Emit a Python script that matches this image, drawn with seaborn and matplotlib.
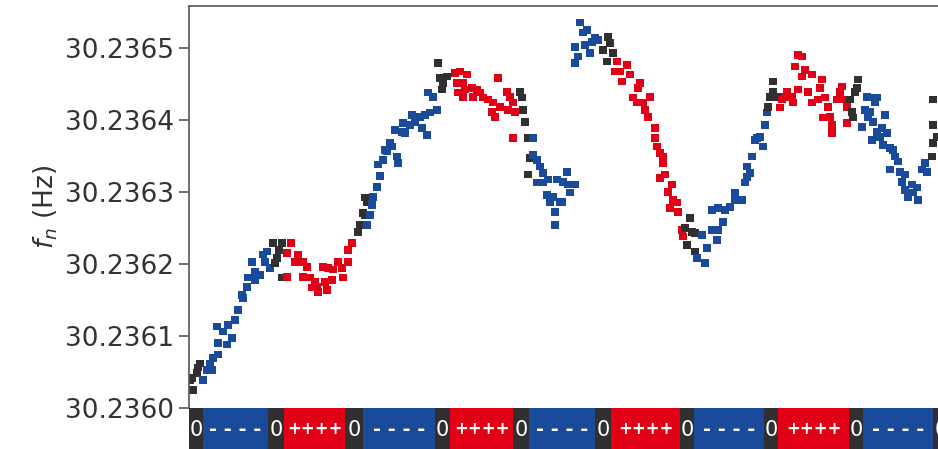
import numpy as np
import pandas as pd
import matplotlib
matplotlib.use("Agg")
import matplotlib.pyplot as plt
import seaborn as sns

# Datos: tiempo (min), desplazamiento de f_n respecto a 30.2360 Hz (µHz), estado
f_base = 30.2360

t_min = [
    # 0
    0.1, 0.3, 0.4, 0.8, 0.9, 1.1,
    # ----
    1.4, 1.8, 2.1, 2.3, 2.4, 2.8, 2.9, 2.9, 3.4, 3.8, 3.9, 4.3, 4.6, 4.9, 5.3, 5.4, 5.8, 5.9,
    6.3, 6.6, 6.6, 7.1, 7.4, 7.6, 7.8, 8.1,
    # 0
    8.4, 8.6, 8.8, 9.0, 9.3, 9.3,
    # ++++
    9.8, 9.8, 10.2, 10.6, 10.9, 11.4, 11.4, 11.8, 12.1, 12.3, 12.6, 12.8, 12.9, 13.4, 13.6, 13.8,
    13.9, 14.3, 14.4, 14.9, 15.3, 15.4, 15.9, 15.9, 16.3,
    # 0
    16.9, 17.1, 17.4, 17.6, 17.6, 17.8,
    # ----
    17.8, 18.1, 18.3, 18.4, 18.8, 18.9, 19.1, 19.4, 19.6, 19.8, 20.1, 20.3, 20.6, 20.8, 20.9,
    21.3, 21.4, 21.6, 22.1, 22.3, 22.6, 23.1, 23.3, 23.6, 23.8, 23.9, 24.1, 24.4, 24.8,
    # 0
    24.9, 25.1, 25.3, 25.4, 25.8,
    # ++++
    26.6, 26.8, 26.9, 27.1, 27.4, 27.4, 27.6, 27.8, 28.3, 28.4, 28.8, 29.1, 29.4, 29.9, 30.3,
    30.4, 30.6, 30.9, 31.1, 31.8, 31.9, 32.1, 32.4, 32.4, 32.6,
    # 0
    33.1, 33.3, 33.4, 33.6, 33.9, 33.9, 34.1,
    # ----
    34.4, 34.4, 34.8, 34.8, 35.1, 35.4, 35.4, 35.8, 35.9, 36.1, 36.4, 36.6, 36.6, 36.8, 37.1,
    37.3, 37.4, 37.8, 37.9, 38.1, 38.4, 38.6,
    38.6, 38.6, 38.9, 39.1, 39.4, 39.6, 39.8, 40.1, 40.3, 40.6, 40.9,
    # 0
    41.4, 41.8, 41.9, 42.1, 42.4,
    # ++++
    42.6, 42.8, 43.1, 43.3, 43.8, 44.1, 44.4, 44.8, 44.9, 45.1, 45.4, 45.6, 45.9, 46.1, 46.6,
    46.6, 46.8, 47.1, 47.1, 47.4, 47.4, 47.6, 47.9, 48.1, 48.3, 48.4, 48.8, 48.9, 49.3, 49.4,
    # 0
    49.6, 49.8, 50.1, 50.3, 50.6, 50.6,
    # ----
    50.8, 51.3, 51.6, 51.8, 52.3, 52.3, 52.8, 52.9, 52.9, 53.4, 53.6, 54.1, 54.6, 54.6, 55.3,
    55.6, 55.8, 55.8, 56.1, 56.3, 56.6, 56.8, 57.1, 57.4, 57.6, 57.8,
    # 0
    57.9, 58.1, 58.4, 58.4, 58.8,
    # ++++
    59.1, 59.3, 59.6, 59.8, 60.3, 60.4, 60.6, 60.9, 60.9, 61.3, 61.3, 61.6, 61.9, 62.3, 62.3,
    62.9, 63.1, 63.3, 63.4, 63.6, 63.9, 64.1, 64.3, 64.3, 64.8, 65.1, 65.3, 65.4, 65.8, 65.8,
    # 0
    66.1, 66.3, 66.4, 66.6, 66.8, 66.9,
    # ----
    67.3, 67.6, 67.8, 67.9, 68.1, 68.3, 68.3, 68.4, 68.6, 68.8, 68.8, 69.1, 69.3, 69.4, 69.6,
    69.8, 70.1, 70.1, 70.4, 70.6, 70.9, 71.1, 71.3, 71.6, 71.6, 71.9, 72.3, 72.4, 72.8, 72.9,
    73.3, 73.6, 73.8,
    # 0
    74.3, 74.4, 74.4, 74.4, 74.8,
]

df_uhz = [
    # 0
    39, 42, 25, 49, 56, 62,
    # ----
    39, 53, 62, 53, 69, 113, 74, 90, 106, 88, 115, 97, 122, 136, 157, 153, 168, 181,
    203, 178, 189, 185, 213, 203, 217, 194,
    # 0
    229, 201, 208, 219, 229, 181,
    # ++++
    215, 182, 229, 203, 213, 203, 182, 196, 181, 167, 175, 168, 161, 196, 175, 164,
    194, 178, 192, 203, 194, 181, 203, 219, 229,
    # 0
    244, 254, 271, 268, 292, 286,
    # ----
    254, 268, 282, 293, 307, 338, 322, 344, 358, 356, 368, 363, 386, 349, 340,
    383, 396, 382, 393, 407, 397, 404, 389, 407, 379, 438, 410, 432, 414,
    # 0
    479, 458, 442, 451, 460,
    # ++++
    465, 451, 438, 467, 451, 432, 442, 463, 444, 432, 442, 438, 431, 428, 411,
    424, 404, 458, 418, 439, 414, 432, 424, 375, 411,
    # 0
    439, 431, 414, 397, 375, 324, 347,
    # ----
    375, 351, 344, 313, 335, 326, 313, 296, 317, 285, 293, 272, 254, 317, 286,
    286, 314, 328, 310, 299, 310, 310,
    479, 501, 488, 535, 521, 504, 525, 493, 508, 514, 511,
    # 0
    497, 481, 515, 507, 493,
    # ++++
    467, 481, 467, 453, 476, 463, 431, 424, 444, 451, 424, 414, 404, 432, 389,
    375, 363, 354, 319, 349, 340, 324, 300, 278, 310, 289, 285, 272, 247, 238,
    # 0
    250, 226, 264, 244, 243, 217,
    # ----
    208, 240, 201, 222, 275, 247, 233, 278, 247, 258, 275, 279, 289, 299, 289,
    313, 321, 335, 326, 349, 372, 375, 376, 363, 393, 410,
    # 0
    418, 432, 453, 439, 432,
    # ++++
    417, 428, 432, 439, 432, 424, 474, 442, 490, 488, 460, 469, 439, 463, 424,
    428, 444, 456, 403, 431, 418, 404, 393, 382, 428, 439, 446, 428, 418, 396,
    # 0
    428, 411, 403, 439, 444, 456,
    # ----
    390, 414, 432, 403, 411, 431, 372, 397, 424, 431, 383, 376, 389, 365, 407,
    382, 361, 331, 358, 349, 342, 328, 314, 324, 303, 293, 310, 299, 306, 289,
    331, 340, 328,
    # 0
    349, 368, 393, 428, 376,
]

n_por_fase = [6, 26, 6, 25, 6, 29, 5, 25, 7, 33, 5, 30, 6, 26, 5, 30, 6, 33, 5]
fases = ["0", "-", "0", "+", "0", "-", "0", "+", "0", "-", "0", "+", "0", "-", "0", "+", "0", "-", "0"]

# Franja inferior: inicio de cada fase (min) y etiqueta
fase_inicio = [0, 1.4, 7.9, 9.5, 15.6, 17.4, 24.6, 26.1, 32.4, 34.0, 40.6, 42.2, 49.1, 50.5, 57.5,
               58.9, 66.0, 67.4, 74.4, 76.0]
fase_texto = {"0": "0", "-": "- - - -", "+": "++++"}
fase_fuente = {"0": (15, "normal"), "-": (14, "bold"), "+": (12, "bold")}

colores = {"0": "#303030", "-": "#1a4b9b", "+": "#e10016"}

estado = []
for f, n in zip(fases, n_por_fase):
    estado += [f] * n

df = pd.DataFrame({"t": t_min, "fn": f_base + np.array(df_uhz) * 1e-6, "estado": estado})

sns.set_theme(style="ticks")
plt.rcParams["font.family"] = ["DejaVu Sans"]

fig = plt.figure(figsize=(9.38, 4.49), dpi=100)
ax = fig.add_axes([189 / 938, 41 / 449, 800 / 938, 402 / 449])
sns.scatterplot(data=df, x="t", y="fn", hue="estado", palette=colores, marker="s", s=30,
                linewidth=0, legend=False, ax=ax)
ax.set_xlim(0, 80)
ax.set_ylim(30.2360, 30.236558)
ax.set_yticks([30.2360, 30.2361, 30.2362, 30.2363, 30.2364, 30.2365])
ax.set_yticklabels([f"{v:.4f}" for v in ax.get_yticks()], fontsize=19, color="#333333")
ax.set_xticks([])
ax.set_xlabel("")
ax.set_ylabel("$f_n$ (Hz)", fontsize=19, color="#333333")
ax.tick_params(axis="y", length=7, width=1.2, color="#555555")
for s in ax.spines.values():
    s.set_color("#555555")
    s.set_linewidth(1.2)
ax.spines["bottom"].set_visible(False)

# Franja de fases
ax2 = fig.add_axes([189 / 938, -2 / 449, 800 / 938, 43 / 449])
ax2.set_xlim(0, 80)
ax2.set_ylim(0, 1)
for i, f in enumerate(fases):
    x0, x1 = fase_inicio[i], fase_inicio[i + 1]
    ax2.axvspan(x0, x1, color=colores[f], lw=0)
    tam, peso = fase_fuente[f]
    ax2.text((x0 + x1) / 2, 0.5, fase_texto[f], color="white", fontsize=tam,
             fontweight=peso, ha="center", va="center")
ax2.axis("off")

fig.savefig("out.png", dpi=100)
